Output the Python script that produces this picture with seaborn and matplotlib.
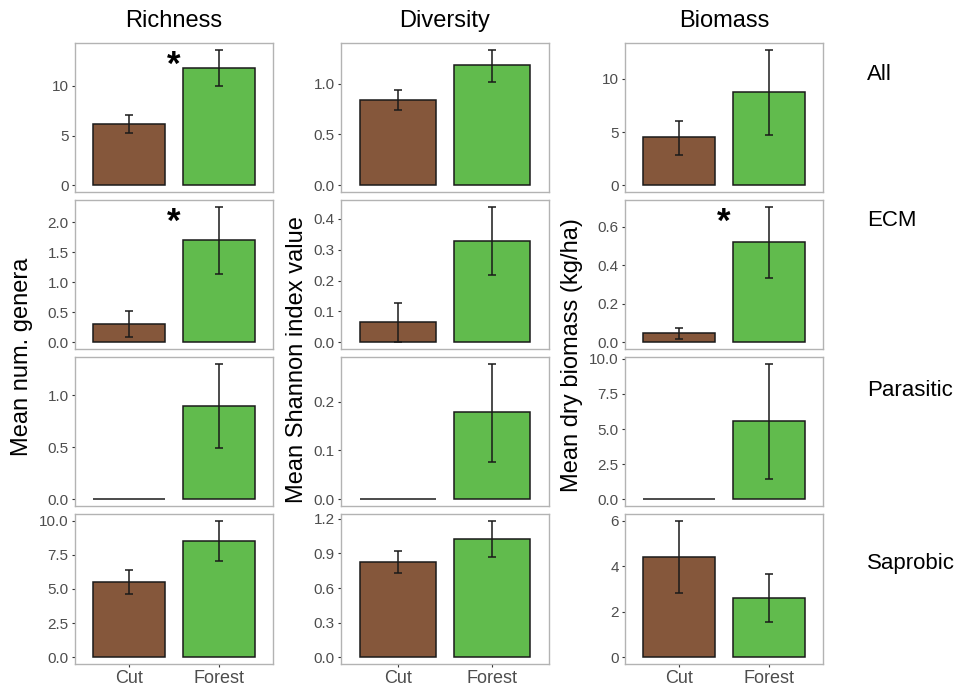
import matplotlib
matplotlib.use("Agg")
import matplotlib.pyplot as plt
import seaborn as sns
import pandas as pd

sites = ["Cut", "Forest"]
groups = ["All", "ECM", "Parasitic", "Saprobic"]
metrics = ["Richness", "Diversity", "Biomass"]

# mean and error bar ends, one row per group (All, ECM, Parasitic, Saprobic)
richness_mean = [[6.17, 11.80], [0.30, 1.70], [0.00, 0.895], [5.50, 8.51]]
richness_low = [[5.30, 9.97], [0.094, 1.14], [0.00, 0.49], [4.65, 7.02]]
richness_high = [[7.07, 13.63], [0.52, 2.26], [0.00, 1.30], [6.38, 10.00]]

diversity_mean = [[0.84, 1.18], [0.064, 0.327], [0.00, 0.178], [0.83, 1.024]]
diversity_low = [[0.74, 1.016], [0.00, 0.217], [0.00, 0.0755], [0.729, 0.865]]
diversity_high = [[0.94, 1.333], [0.128, 0.439], [0.00, 0.2776], [0.925, 1.183]]

biomass_mean = [[4.49, 8.75], [0.048, 0.518], [0.00, 5.56], [4.41, 2.61]]
biomass_low = [[2.87, 4.73], [0.017, 0.331], [0.00, 1.44], [2.84, 1.55]]
biomass_high = [[6.07, 12.74], [0.075, 0.703], [0.00, 9.65], [6.00, 3.68]]

richness_ticks = [[0, 5, 10], [0, 0.5, 1.0, 1.5, 2.0], [0, 0.5, 1.0], [0, 2.5, 5.0, 7.5, 10.0]]
richness_labels = [["0", "5", "10"], ["0.0", "0.5", "1.0", "1.5", "2.0"],
                   ["0.0", "0.5", "1.0"], ["0.0", "2.5", "5.0", "7.5", "10.0"]]
diversity_ticks = [[0, 0.5, 1.0], [0, 0.1, 0.2, 0.3, 0.4], [0, 0.1, 0.2], [0, 0.3, 0.6, 0.9, 1.2]]
diversity_labels = [["0.0", "0.5", "1.0"], ["0.0", "0.1", "0.2", "0.3", "0.4"],
                    ["0.0", "0.1", "0.2"], ["0.0", "0.3", "0.6", "0.9", "1.2"]]
biomass_ticks = [[0, 5, 10], [0, 0.2, 0.4, 0.6], [0, 2.5, 5.0, 7.5, 10.0], [0, 2, 4, 6]]
biomass_labels = [["0", "5", "10"], ["0.0", "0.2", "0.4", "0.6"],
                  ["0.0", "2.5", "5.0", "7.5", "10.0"], ["0", "2", "4", "6"]]

ylabels = ["Mean num. genera", "Mean Shannon index value", "Mean dry biomass (kg/ha)"]
significant = [("Richness", "All"), ("Richness", "ECM"), ("Biomass", "ECM")]

data = {
    "Richness": (richness_mean, richness_low, richness_high, richness_ticks, richness_labels),
    "Diversity": (diversity_mean, diversity_low, diversity_high, diversity_ticks, diversity_labels),
    "Biomass": (biomass_mean, biomass_low, biomass_high, biomass_ticks, biomass_labels),
}

colores = {"Cut": "#85573B", "Forest": "#61BB4D"}

sns.set_style("white")
plt.rcParams["font.family"] = ["Liberation Sans", "DejaVu Sans"]

W, H = 969, 688
fig = plt.figure(figsize=(W / 100, H / 100), dpi=100)

# panel boxes in pixels
col_x = [(75, 273), (341, 549), (625, 823)]
row_y = [(43, 192), (200, 349), (357, 506), (514, 664)]

for j, metric in enumerate(metrics):
    means, lows, highs, ticks, labels = data[metric]
    x0, x1 = col_x[j]
    for i, group in enumerate(groups):
        y0, y1 = row_y[i]
        ax = fig.add_axes([x0 / W, 1 - y1 / H, (x1 - x0) / W, (y1 - y0) / H])
        df = pd.DataFrame({"site": sites, "mean": means[i],
                           "low": lows[i], "high": highs[i]})
        sns.barplot(data=df, x="site", y="mean", hue="site", palette=colores,
                    width=0.8, saturation=1, edgecolor="#1a1a1a", linewidth=1.1,
                    legend=False, ax=ax)
        con_error = df[df["high"] > df["low"]]
        ax.errorbar(x=con_error.index, y=con_error["mean"],
                    yerr=[con_error["mean"] - con_error["low"],
                          con_error["high"] - con_error["mean"]],
                    fmt="none", ecolor="#1a1a1a", elinewidth=1.1,
                    capsize=3, capthick=1.1)
        top = max(highs[i])
        ax.set_xlim(-0.6, 1.6)
        ax.set_ylim(-0.05 * top, 1.05 * top)
        ax.set_yticks(ticks[i])
        ax.set_yticklabels(labels[i])
        ax.set_xlabel("")
        ax.set_ylabel("")
        for s in ax.spines.values():
            s.set_visible(True)
            s.set_color("#b3b3b3")
            s.set_linewidth(1.0)
        ax.tick_params(axis="y", left=True, length=2.5, width=0.8, color="#333333",
                       labelsize=11, labelcolor="#4d4d4d", pad=2)
        if i == len(groups) - 1:
            ax.tick_params(axis="x", bottom=True, length=2.5, width=0.8, color="#333333",
                           labelsize=13, labelcolor="#4d4d4d", pad=2)
        else:
            ax.tick_params(axis="x", bottom=False, labelbottom=False)
        if (metric, group) in significant:
            ax.text(0.5, 0.85, "*", transform=ax.get_xaxis_transform(),
                    ha="center", va="center", fontsize=25, fontweight="bold",
                    color="black")

    # column title
    fig.text((x0 + x1) / 2 / W, 1 - 21 / H, metric, ha="center", va="center",
             fontsize=17, color="black")

fig.text(22 / W, 1 - 357 / H, ylabels[0], rotation=90, ha="center", va="center",
         fontsize=17, color="black")
fig.text(297 / W, 1 - 360 / H, ylabels[1], rotation=90, ha="center", va="center",
         fontsize=17, color="black")
fig.text(572 / W, 1 - 355 / H, ylabels[2], rotation=90, ha="center", va="center",
         fontsize=17, color="black")

# row labels
row_label_y = [74, 220, 391, 563]
for group, yy in zip(groups, row_label_y):
    fig.text(867 / W, 1 - yy / H, group, ha="left", va="center", fontsize=16, color="black")

fig.savefig("out.png", dpi=100, facecolor="white")
